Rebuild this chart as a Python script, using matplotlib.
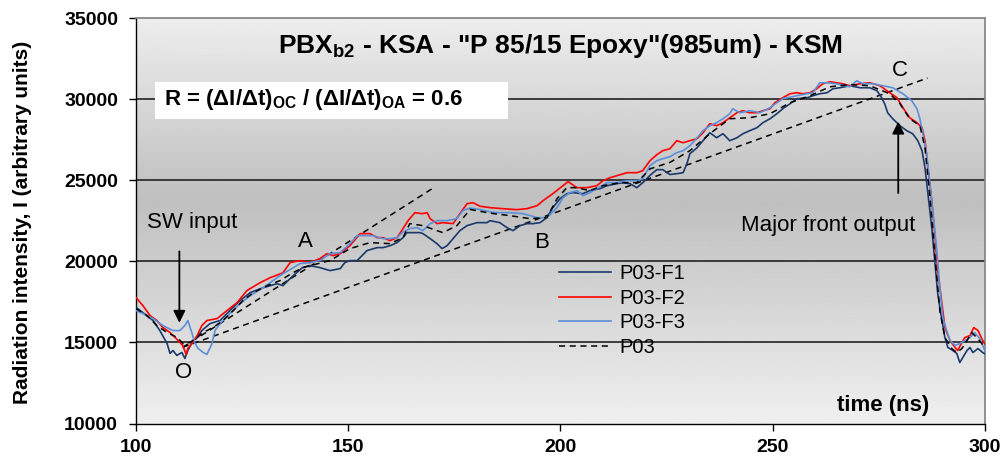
import numpy as np
import matplotlib
matplotlib.use("Agg")
import matplotlib.pyplot as plt
from matplotlib.patches import Rectangle

plt.rcParams['font.family'] = ['Liberation Sans', 'DejaVu Sans']
plt.rcParams['mathtext.fontset'] = 'custom'
plt.rcParams['mathtext.rm'] = 'Liberation Sans'
plt.rcParams['mathtext.bf'] = 'Liberation Sans:bold'

# P03-F1
t_f1 = [100.0, 101.6, 104.0, 105.6, 107.3, 108.0, 108.7, 109.6, 110.8, 111.5, 112.2, 113.4, 114.4, 115.5,
        117.4, 119.8, 122.1, 124.5, 126.9, 129.9, 133.2, 134.6, 137.0, 139.2, 141.0, 143.3, 145.7, 148.1,
        149.2, 150.4, 152.1, 154.4, 156.8, 158.2, 159.9, 161.5, 162.9, 163.8, 165.3, 166.9, 167.6, 169.3,
        170.9, 172.1, 173.3, 174.7, 176.3, 178.0, 180.3, 182.7, 183.4, 185.7, 187.4, 188.8, 190.5, 192.1,
        193.5, 195.2, 196.8, 198.2, 199.9, 201.5, 202.9, 205.3, 206.9, 209.3, 211.0, 213.3, 214.7, 216.4,
        218.0, 219.4, 221.1, 222.7, 224.1, 225.8, 227.4, 228.9, 229.8, 230.5, 232.2, 233.6, 235.2, 236.8,
        238.3, 239.9, 241.6, 243.0, 244.6, 246.3, 247.7, 249.4, 251.0, 252.4, 254.1, 255.7, 258.1, 259.5,
        261.1, 262.8, 264.2, 265.8, 268.2, 270.6, 272.9, 274.6, 275.7, 276.4, 277.1, 278.3, 280.0, 281.6,
        283.0, 284.2, 285.2, 285.9, 286.6, 287.5, 288.2, 288.9, 289.9, 290.6, 291.3, 292.5, 293.4, 294.1,
        294.8, 295.8, 296.5, 297.2, 298.4, 299.5, 300.0]
i_f1 = [17150, 16840, 16350, 15730, 14935, 14320, 14500, 14200, 14380, 14010, 14500, 15120, 15300, 15730,
        16160, 16350, 16960, 17575, 18070, 18370, 18620, 18500, 19110, 19612, 19735, 19612, 19427, 19550,
        19920, 20043, 20043, 20660, 20844, 20844, 20967, 21152, 21460, 21768, 21768, 21768, 21706, 21398,
        21090, 20782, 20967, 21398, 21891, 22199, 22384, 22384, 22507, 22384, 22076, 21891, 22199, 22322,
        22322, 22384, 22692, 23308, 23862, 24170, 24232, 24170, 24355, 24478, 24663, 24786, 24848, 24786,
        24540, 24848, 25300, 25650, 25650, 25350, 25402, 25464, 26018, 26634, 27004, 27436, 27928, 27620,
        27867, 27436, 27620, 27867, 28052, 28236, 28544, 28791, 29099, 29407, 29715, 30023, 30084, 30208,
        30331, 30392, 30639, 30700, 30824, 30700, 30700, 30515, 30084, 29715, 29160, 28791, 28360, 28052,
        27867, 27436, 26819, 25772, 24170, 22076, 20043, 18010, 16347, 15300, 14684, 14499, 14314, 13760,
        14068, 14499, 14684, 14376, 14622, 14376, 14300]

# P03-F2
t_f2 = [100.0, 101.6, 103.3, 104.9, 106.3, 108.0, 109.9, 111.0, 111.8, 112.2, 113.2, 114.4, 115.5, 116.7,
        119.1, 121.4, 123.8, 126.1, 129.2, 131.6, 134.6, 136.3, 138.6, 141.0, 143.3, 145.0, 146.4, 148.1,
        150.4, 152.8, 155.1, 156.8, 158.2, 159.8, 161.5, 162.9, 164.1, 165.7, 167.4, 168.6, 169.3, 170.9,
        172.3, 174.7, 176.3, 178.0, 179.4, 181.0, 183.4, 186.4, 189.7, 192.1, 194.5, 195.9, 198.2, 200.6,
        201.8, 203.9, 206.2, 208.6, 210.0, 211.7, 213.3, 215.7, 218.0, 219.4, 221.1, 222.7, 224.1, 225.8,
        227.4, 228.9, 230.5, 232.2, 233.6, 235.2, 236.8, 238.3, 239.9, 241.6, 243.0, 244.6, 246.3, 247.7,
        249.4, 250.5, 252.4, 254.1, 255.7, 257.1, 258.8, 260.4, 261.8, 263.5, 265.1, 266.5, 268.2, 270.6,
        272.9, 275.3, 277.6, 279.3, 280.7, 282.3, 284.0, 285.2, 285.9, 286.6, 287.5, 288.2, 288.9, 289.9,
        290.6, 291.8, 293.0, 293.6, 294.6, 295.3, 296.5, 297.4, 298.4, 299.5, 300.0]
i_f2 = [17760, 17270, 16650, 16350, 15920, 15610, 15120, 14810, 14250, 14630, 14935, 15425, 16040, 16350,
        16470, 16960, 17450, 18190, 18680, 18990, 19290, 19920, 20043, 19920, 20166, 20474, 20351, 20474,
        20967, 21706, 21706, 21460, 21460, 21275, 21460, 22014, 22507, 23000, 22938, 23000, 22630, 22322,
        22384, 22322, 22938, 23554, 23616, 23400, 23308, 23246, 23185, 23246, 23431, 23739, 24170, 24663,
        24909, 24540, 24540, 24663, 24971, 25156, 25279, 25464, 25464, 25587, 26203, 26570, 26819, 26942,
        27436, 27312, 27436, 27559, 27928, 28483, 28360, 28544, 28852, 29160, 29283, 29160, 29160, 29283,
        29407, 29776, 30084, 30331, 30392, 30331, 30392, 30639, 30947, 31070, 31008, 30947, 30824, 30947,
        31008, 30824, 30392, 30084, 29468, 28852, 28544, 28236, 27436, 25772, 23739, 21706, 19427, 17394,
        15915, 15115, 14684, 14499, 14992, 15300, 15423, 15915, 15730, 15115, 14900]

# P03-F3
t_f3 = [100.0, 101.6, 104.0, 106.3, 108.7, 110.3, 111.5, 112.2, 113.2, 113.9, 114.6, 115.8, 116.7, 117.9,
        118.6, 119.8, 122.1, 124.5, 126.9, 129.9, 133.2, 134.6, 137.0, 138.6, 141.0, 143.3, 145.7, 148.1,
        150.4, 152.1, 153.5, 155.8, 158.2, 159.8, 161.5, 162.7, 164.5, 166.2, 167.6, 169.3, 170.9, 173.3,
        175.6, 177.0, 178.7, 181.0, 183.4, 185.0, 188.1, 191.2, 194.5, 196.8, 199.2, 200.6, 202.2, 203.9,
        205.3, 206.9, 208.6, 211.0, 213.3, 215.7, 218.0, 219.4, 221.1, 222.7, 224.1, 225.8, 227.4, 228.9,
        230.5, 232.2, 233.6, 235.2, 236.8, 238.3, 239.9, 240.6, 242.3, 244.6, 247.0, 249.4, 251.0, 252.4,
        255.7, 258.1, 259.5, 261.1, 262.8, 265.1, 268.2, 269.8, 271.3, 273.6, 276.0, 278.3, 280.7, 282.8,
        284.0, 284.7, 285.4, 286.3, 287.0, 287.8, 288.7, 289.4, 290.1, 291.0, 291.8, 293.0, 294.1, 295.3,
        296.5, 297.6, 298.8, 300.0]
i_f3 = [16960, 16780, 16470, 16040, 15730, 15730, 16040, 16350, 15550, 14935, 14630, 14380, 14260, 14935,
        15730, 16160, 16780, 17390, 17880, 18370, 18990, 19230, 19600, 19858, 19920, 20043, 20474, 20536,
        21090, 21583, 21583, 21583, 21398, 21398, 21460, 21768, 22014, 22076, 21891, 22322, 22507, 22507,
        22630, 23123, 23280, 23200, 23050, 23000, 23000, 22938, 22692, 22692, 23308, 23924, 24232, 24355,
        24047, 24232, 24478, 24848, 24848, 24971, 24971, 25094, 25900, 26203, 26326, 26450, 26696, 26819,
        27127, 27620, 28052, 28360, 28544, 28791, 29099, 29407, 29160, 29283, 29160, 29468, 29776, 30023,
        30208, 30331, 30392, 31008, 31008, 30947, 30760, 31131, 30947, 30947, 30824, 30700, 30331, 29900,
        29407, 28791, 27867, 26634, 24971, 22938, 20659, 18380, 16532, 15731, 15115, 14807, 14930, 15115,
        15300, 15608, 15238, 14499]

# P03 (mean record)
t_p03 = [100.0, 102.6, 104.9, 107.3, 109.7, 111.1, 112.7, 114.4, 115.8, 118.1, 120.5, 122.9, 125.2, 127.6,
         130.9, 133.9, 137.0, 139.3, 141.0, 145.7, 150.4, 155.1, 159.8, 162.9, 164.5, 167.6, 170.9, 172.3,
         175.6, 178.7, 183.4, 188.1, 192.8, 196.8, 199.2, 201.5, 203.9, 206.9, 210.0, 214.0, 218.0, 221.1,
         225.8, 230.5, 235.2, 239.9, 244.6, 249.4, 254.1, 258.8, 263.5, 268.2, 272.9, 277.6, 280.0, 282.3,
         284.7, 285.9, 287.0, 288.2, 289.4, 290.6, 292.2, 293.4, 294.6, 295.8, 296.9, 298.1, 299.3, 300.0]
i_p03 = [17090, 16650, 16035, 15610, 15300, 14930, 14990, 15300, 15610, 15915, 16350, 16960, 17580, 18070,
         18500, 18810, 19300, 19610, 19735, 20043, 20782, 21152, 21090, 21460, 22322, 22199, 21891, 21768,
         22199, 23200, 22970, 22815, 22630, 22692, 23862, 24540, 24540, 24355, 24663, 24848, 24848, 25700,
         26100, 26819, 27867, 28791, 28852, 29099, 29776, 30208, 30760, 30900, 30824, 30331, 29715, 28791,
         28360, 27004, 24170, 20474, 16963, 15300, 14622, 14376, 14622, 15115, 15608, 15300, 14930, 14622]

# slope construction lines O-A and O-C
oa_t = [111.0, 170.5]
oa_i = [14700, 24600]
oc_t = [111.0, 286.5]
oc_i = [14700, 31300]

fig = plt.figure(figsize=(10.08, 4.63), dpi=100)
ax = fig.add_axes([0.135, 0.0853, 0.842, 0.8758])

# vertical grey gradient behind the data
shade = np.interp(np.linspace(0, 1, 256), [0.0, 0.55, 1.0], [0.94, 0.75, 0.93])
ax.imshow(shade[:, None], cmap='gray', vmin=0, vmax=1, aspect='auto',
          extent=[0, 1, 0, 1], transform=ax.transAxes, zorder=0, origin='lower')

for y in [15000, 20000, 25000, 30000]:
    ax.axhline(y, color='#222222', lw=1.2, zorder=1)

ax.plot(oa_t, oa_i, color='black', lw=1.1, dashes=(4, 3), zorder=2)
ax.plot(oc_t, oc_i, color='black', lw=1.1, dashes=(4, 3), zorder=2)

ax.plot(t_f1, i_f1, color='#1a3a6b', lw=1.2, label='P03-F1', zorder=3)
ax.plot(t_f2, i_f2, color='#ff0000', lw=1.2, label='P03-F2', zorder=3)
ax.plot(t_f3, i_f3, color='#5b8fd8', lw=1.2, label='P03-F3', zorder=3)
ax.plot(t_p03, i_p03, color='black', lw=1.1, dashes=(4, 3), label='P03', zorder=4)

ax.set_xlim(100, 300)
ax.set_ylim(10000, 35000)
ax.set_xticks([100, 150, 200, 250, 300])
ax.set_yticks([10000, 15000, 20000, 25000, 30000, 35000])
ax.tick_params(direction='out', length=5, width=1, labelsize=14)
for lab in ax.get_xticklabels() + ax.get_yticklabels():
    lab.set_fontweight('bold')
ax.tick_params(axis='x', pad=6)
ax.tick_params(axis='y', pad=8)

for s in ['top', 'right']:
    ax.spines[s].set_color('#888888')
    ax.spines[s].set_linewidth(1.3)
for s in ['left', 'bottom']:
    ax.spines[s].set_color('black')
    ax.spines[s].set_linewidth(1.0)

fig.text(0.022, 0.52, 'Radiation intensity, I (arbitrary units)', rotation=90,
         fontsize=15, fontweight='bold', ha='center', va='center')

ax.text(0.5006, 0.931, r'PBX$_\mathbf{b2}$ - KSA - "P 85/15 Epoxy"(985um) - KSM',
        transform=ax.transAxes, ha='center', va='center', fontsize=19, fontweight='bold', zorder=5)

ax.add_patch(Rectangle((0.0224, 0.751), 0.4156, 0.091, transform=ax.transAxes,
                       facecolor='white', edgecolor='none', zorder=5))
ax.text(0.033, 0.798, r'R = (ΔI/Δt)$_\mathbf{OC}$ / (ΔI/Δt)$_\mathbf{OA}$ = 0.6',
        transform=ax.transAxes, ha='left', va='center', fontsize=16, fontweight='bold', zorder=6)

ax.text(0.934, 0.0456, 'time (ns)', transform=ax.transAxes, ha='right', va='center',
        fontsize=16, fontweight='bold', zorder=5)

# point labels
ax.text(111.1, 13140, 'O', fontsize=16, ha='center', va='center', zorder=5)
ax.text(140.0, 21200, 'A', fontsize=16, ha='center', va='center', zorder=5)
ax.text(195.6, 21170, 'B', fontsize=16, ha='center', va='center', zorder=5)
ax.text(280.0, 31740, 'C', fontsize=16, ha='center', va='center', zorder=5)

ax.text(113.2, 22384, 'SW input', fontsize=16, ha='center', va='center', zorder=5)
ax.annotate('', xy=(110.2, 16040), xytext=(110.2, 20780),
            arrowprops=dict(arrowstyle='-|>', color='black', lw=1.3, mutation_scale=18), zorder=5)

ax.text(283.7, 22200, 'Major front output', fontsize=16, ha='right', va='center', zorder=5)
ax.annotate('', xy=(279.6, 28780), xytext=(279.6, 24040),
            arrowprops=dict(arrowstyle='-|>', color='black', lw=1.3, mutation_scale=18), zorder=5)

ax.legend(loc='upper left', bbox_to_anchor=(0.498, 0.393), frameon=False, fontsize=14.5,
          handlelength=2.6, handletextpad=0.4, labelspacing=0.28, borderpad=0, borderaxespad=0)

fig.savefig('out.png', dpi=100)
